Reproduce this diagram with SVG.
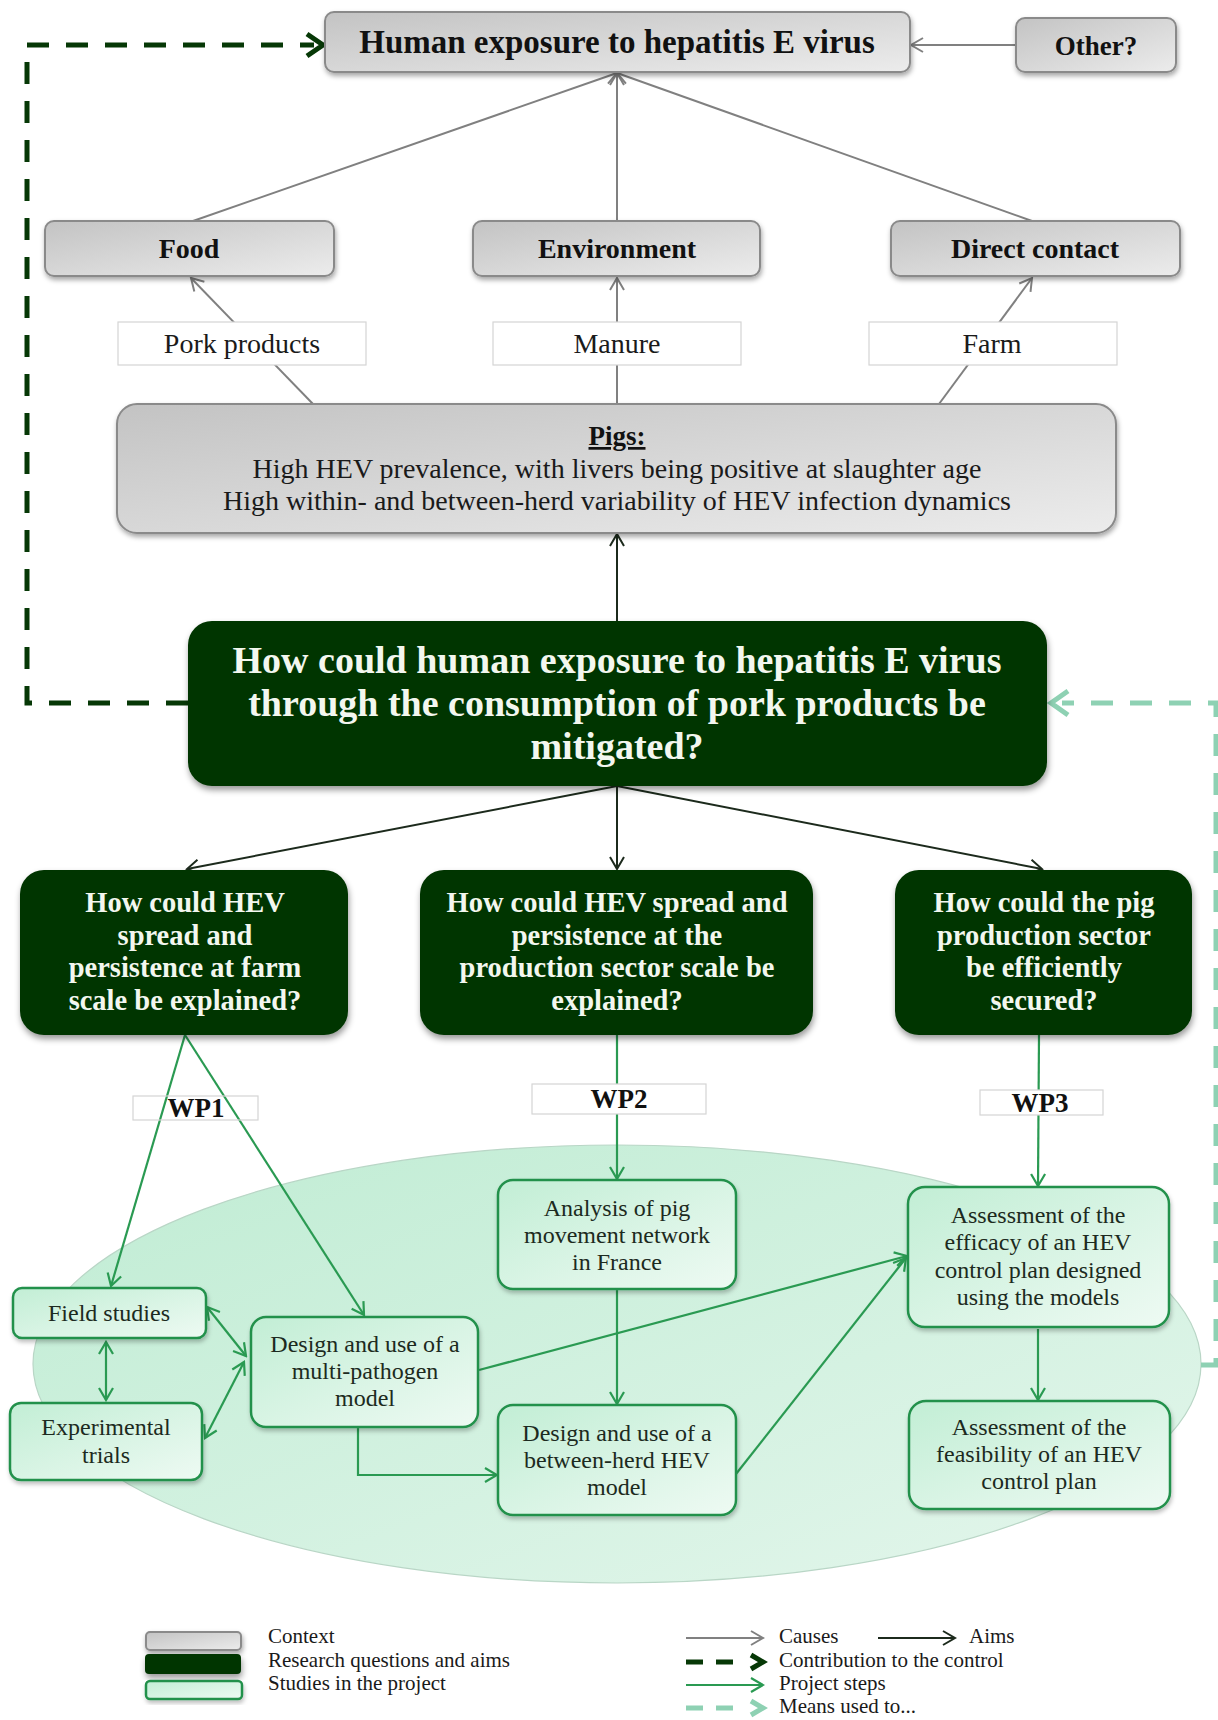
<svg xmlns="http://www.w3.org/2000/svg" width="1218" height="1720" viewBox="0 0 1218 1720">
<defs>
<style>
text{font-family:"Liberation Serif","Times New Roman",serif;}
.gbox{fill:url(#grayGrad);stroke:#8a8a8a;stroke-width:2;filter:url(#sh);}
.dbox{fill:#023502;filter:url(#shd);}
.lbox{fill:url(#lgGrad);stroke:#24914c;stroke-width:2.5;filter:url(#shl);}
.wbox{fill:#fff;stroke:#d4d4d4;stroke-width:1.2;}
.tb{font-weight:bold;fill:#111;text-anchor:middle;}
.tr{fill:#1a1a1a;text-anchor:middle;}
.tw{font-weight:bold;fill:#f3f7ef;text-anchor:middle;}
.ts{fill:#1c2a20;text-anchor:middle;font-size:24px;}
.cg{stroke:#808080;stroke-width:2;fill:none;marker-end:url(#arrGray);}
.cd{stroke:#1c2a1c;stroke-width:2;fill:none;marker-end:url(#arrDark);}
.cs{stroke:#2a9a52;stroke-width:2.2;fill:none;marker-end:url(#arrGreen);}
.cs2{stroke:#2a9a52;stroke-width:2.2;fill:none;marker-end:url(#arrGreen);marker-start:url(#arrGreen);}
.dk{stroke:#063806;stroke-width:5;fill:none;stroke-dasharray:22 17;}
.lg{stroke:#8ed1b3;stroke-width:5;fill:none;stroke-dasharray:22 17;}
.chd{stroke:#063806;stroke-width:5;fill:none;stroke-linejoin:miter;}
.chl{stroke:#8ed1b3;stroke-width:5;fill:none;stroke-linejoin:miter;}
.leg{fill:#1a1a1a;font-size:21px;}
</style>
<linearGradient id="grayGrad" x1="0" y1="0" x2="1" y2="1">
<stop offset="0" stop-color="#c3c3c3"/><stop offset="1" stop-color="#ececec"/>
</linearGradient>
<linearGradient id="lgGrad" x1="0" y1="0" x2="1" y2="1">
<stop offset="0" stop-color="#c2eed5"/><stop offset="1" stop-color="#eefaf3"/>
</linearGradient>
<linearGradient id="ellGrad" x1="0" y1="0" x2="1" y2="1">
<stop offset="0" stop-color="#bfecd3"/><stop offset="1" stop-color="#e4f6ec"/>
</linearGradient>
<filter id="sh" x="-10%" y="-20%" width="120%" height="150%">
<feDropShadow dx="1" dy="3" stdDeviation="2.5" flood-color="#000" flood-opacity="0.35"/>
</filter>
<filter id="shd" x="-10%" y="-20%" width="120%" height="150%">
<feDropShadow dx="1" dy="4" stdDeviation="3" flood-color="#000" flood-opacity="0.4"/>
</filter>
<filter id="shl" x="-10%" y="-20%" width="120%" height="150%">
<feDropShadow dx="1" dy="3" stdDeviation="2" flood-color="#000" flood-opacity="0.25"/>
</filter>
<marker id="arrGray" markerUnits="userSpaceOnUse" markerWidth="16" markerHeight="18" viewBox="0 0 16 18" refX="14" refY="9" orient="auto-start-reverse">
<path d="M2,2 L14,9 L2,16" fill="none" stroke="#808080" stroke-width="2"/>
</marker>
<marker id="arrDark" markerUnits="userSpaceOnUse" markerWidth="16" markerHeight="18" viewBox="0 0 16 18" refX="14" refY="9" orient="auto-start-reverse">
<path d="M2,2 L14,9 L2,16" fill="none" stroke="#1c2a1c" stroke-width="2"/>
</marker>
<marker id="arrGreen" markerUnits="userSpaceOnUse" markerWidth="16" markerHeight="18" viewBox="0 0 16 18" refX="14" refY="9" orient="auto-start-reverse">
<path d="M2,2 L14,9 L2,16" fill="none" stroke="#2a9a52" stroke-width="2.2"/>
</marker>
</defs>

<rect x="0" y="0" width="1218" height="1720" fill="#ffffff"/>

<g id="study-area">
<ellipse cx="617" cy="1364" rx="584" ry="219" fill="url(#ellGrad)" stroke="#b9d6c6" stroke-width="1.2"/>
</g>

<g id="connectors">
<line class="cg" x1="1016" y1="45" x2="911" y2="45"/>
<line class="cg" x1="193" y1="221" x2="617" y2="73"/>
<line class="cg" x1="617" y1="221" x2="617" y2="73"/>
<line class="cg" x1="1032" y1="221" x2="617" y2="73"/>
<line class="cg" x1="313" y1="404" x2="191" y2="278"/>
<line class="cg" x1="617" y1="404" x2="617" y2="278"/>
<line class="cg" x1="939" y1="404" x2="1032" y2="278"/>
<line class="cd" x1="617" y1="621" x2="617" y2="534"/>
<line class="cd" x1="617" y1="786" x2="187" y2="869"/>
<line class="cd" x1="617" y1="786" x2="617" y2="869"/>
<line class="cd" x1="617" y1="786" x2="1042" y2="869"/>
<path class="dk" d="M188,703 L27,703 L27,45 L314,45"/>
<polyline class="chd" points="307,34 323,45 307,56"/>
<path class="lg" d="M1201,1365 L1216,1365 L1216,703 L1062,703"/>
<polyline class="chl" points="1068,691 1051,703 1068,715"/>
<line class="cs" x1="185" y1="1035" x2="111" y2="1286"/>
<line class="cs" x1="185" y1="1035" x2="364" y2="1315"/>
<line class="cs" x1="617" y1="1035" x2="617" y2="1179"/>
<line class="cs" x1="1039" y1="1035" x2="1038" y2="1186"/>
<line class="cs2" x1="106" y1="1342" x2="106" y2="1400"/>
<line class="cs2" x1="207" y1="1307" x2="246" y2="1356"/>
<line class="cs2" x1="205" y1="1438" x2="244" y2="1362"/>
<path class="cs" d="M358,1428 L358,1475 L497,1475"/>
<line class="cs" x1="617" y1="1289" x2="617" y2="1404"/>
<line class="cs" x1="479" y1="1370" x2="907" y2="1256"/>
<line class="cs" x1="736" y1="1474" x2="906" y2="1258"/>
<line class="cs" x1="1038" y1="1329" x2="1038" y2="1400"/>
</g>

<g id="node-human-exposure">
<rect class="gbox" x="325" y="12" width="585" height="60" rx="9"/>
<text class="tb" x="617" y="53" font-size="33">Human exposure to hepatitis E virus</text>
</g>
<g id="node-other">
<rect class="gbox" x="1016" y="18" width="160" height="54" rx="9"/>
<text class="tb" x="1096" y="55" font-size="27">Other?</text>
</g>
<g id="node-food">
<rect class="gbox" x="45" y="221" width="289" height="55" rx="9"/>
<text class="tb" x="189" y="258" font-size="28">Food</text>
</g>
<g id="node-environment">
<rect class="gbox" x="473" y="221" width="287" height="55" rx="9"/>
<text class="tb" x="617" y="258" font-size="28">Environment</text>
</g>
<g id="node-direct-contact">
<rect class="gbox" x="891" y="221" width="289" height="55" rx="9"/>
<text class="tb" x="1035" y="258" font-size="28">Direct contact</text>
</g>
<g id="label-pork-products">
<rect class="wbox" x="118" y="322" width="248" height="43"/>
<text class="tr" x="242" y="353" font-size="28">Pork products</text>
</g>
<g id="label-manure">
<rect class="wbox" x="493" y="322" width="248" height="43"/>
<text class="tr" x="617" y="353" font-size="28">Manure</text>
</g>
<g id="label-farm">
<rect class="wbox" x="869" y="322" width="248" height="43"/>
<text class="tr" x="992" y="353" font-size="28">Farm</text>
</g>
<g id="node-pigs">
<rect class="gbox" x="117" y="404" width="999" height="129" rx="20"/>
<text class="tb" x="617" y="445" font-size="27" text-decoration="underline">Pigs:</text>
<text class="tr" x="617" y="478" font-size="28">High HEV prevalence, with livers being positive at slaughter age</text>
<text class="tr" x="617" y="510" font-size="28">High within- and between-herd variability of HEV infection dynamics</text>
</g>
<g id="node-main-question">
<rect class="dbox" x="188" y="621" width="859" height="165" rx="24"/>
<text class="tw" font-size="38"><tspan x="617" y="673">How could human exposure to hepatitis E virus</tspan><tspan x="617" y="716">through the consumption of pork products be</tspan><tspan x="617" y="759">mitigated?</tspan></text>
</g>
<g id="node-farm-scale">
<rect class="dbox" x="20" y="870" width="328" height="165" rx="24"/>
<text class="tw" font-size="28.5"><tspan x="185" y="912">How could HEV</tspan><tspan x="185" y="945">spread and</tspan><tspan x="185" y="977">persistence at farm</tspan><tspan x="185" y="1010">scale be explained?</tspan></text>
</g>
<g id="node-sector-scale">
<rect class="dbox" x="420" y="870" width="393" height="165" rx="24"/>
<text class="tw" font-size="28.5"><tspan x="617" y="912">How could HEV spread and</tspan><tspan x="617" y="945">persistence at the</tspan><tspan x="617" y="977">production sector scale be</tspan><tspan x="617" y="1010">explained?</tspan></text>
</g>
<g id="node-secured">
<rect class="dbox" x="895" y="870" width="297" height="165" rx="24"/>
<text class="tw" font-size="28.5"><tspan x="1044" y="912">How could the pig</tspan><tspan x="1044" y="945">production sector</tspan><tspan x="1044" y="977">be efficiently</tspan><tspan x="1044" y="1010">secured?</tspan></text>
</g>
<g id="label-wp1">
<rect x="133" y="1096" width="125" height="24" fill="none" stroke="#d4d4d4" stroke-width="1.2"/>
<text class="tb" x="196" y="1117" font-size="27">WP1</text>
</g>
<g id="label-wp2">
<rect class="wbox" x="532" y="1084" width="174" height="30"/>
<text class="tb" x="619" y="1108" font-size="27">WP2</text>
</g>
<g id="label-wp3">
<rect class="wbox" x="980" y="1090" width="123" height="25"/>
<text class="tb" x="1040" y="1112" font-size="27">WP3</text>
</g>
<g id="node-field-studies">
<rect class="lbox" x="13" y="1288" width="193" height="50" rx="9"/>
<text class="ts" x="109" y="1321">Field studies</text>
</g>
<g id="node-experimental-trials">
<rect class="lbox" x="10" y="1403" width="192" height="77" rx="11"/>
<text class="ts"><tspan x="106" y="1435">Experimental</tspan><tspan x="106" y="1463">trials</tspan></text>
</g>
<g id="node-multi-pathogen">
<rect class="lbox" x="251" y="1317" width="227" height="110" rx="15"/>
<text class="ts"><tspan x="365" y="1352">Design and use of a</tspan><tspan x="365" y="1379">multi-pathogen</tspan><tspan x="365" y="1406">model</tspan></text>
</g>
<g id="node-movement-network">
<rect class="lbox" x="498" y="1180" width="238" height="109" rx="15"/>
<text class="ts"><tspan x="617" y="1216">Analysis of pig</tspan><tspan x="617" y="1243">movement network</tspan><tspan x="617" y="1270">in France</tspan></text>
</g>
<g id="node-between-herd">
<rect class="lbox" x="498" y="1405" width="238" height="110" rx="15"/>
<text class="ts"><tspan x="617" y="1441">Design and use of a</tspan><tspan x="617" y="1468">between-herd HEV</tspan><tspan x="617" y="1495">model</tspan></text>
</g>
<g id="node-efficacy">
<rect class="lbox" x="908" y="1187" width="261" height="140" rx="17"/>
<text class="ts"><tspan x="1038" y="1223">Assessment of the</tspan><tspan x="1038" y="1250">efficacy of an HEV</tspan><tspan x="1038" y="1278">control plan designed</tspan><tspan x="1038" y="1305">using the models</tspan></text>
</g>
<g id="node-feasibility">
<rect class="lbox" x="909" y="1401" width="261" height="108" rx="17"/>
<text class="ts"><tspan x="1039" y="1435">Assessment of the</tspan><tspan x="1039" y="1462">feasibility of an HEV</tspan><tspan x="1039" y="1489">control plan</tspan></text>
</g>

<g id="legend">
<rect class="gbox" x="146" y="1632" width="95" height="18" rx="4"/>
<rect class="dbox" x="145" y="1654" width="96" height="20" rx="4"/>
<rect class="lbox" x="146" y="1681" width="96" height="18" rx="4"/>
<text class="leg" x="268" y="1643">Context</text>
<text class="leg" x="268" y="1667">Research questions and aims</text>
<text class="leg" x="268" y="1690">Studies in the project</text>
<line class="cg" x1="686" y1="1638" x2="763" y2="1638"/>
<text class="leg" x="779" y="1643">Causes</text>
<line class="cd" x1="878" y1="1638" x2="955" y2="1638"/>
<text class="leg" x="969" y="1643">Aims</text>
<path d="M686,1662 L745,1662" stroke="#063806" stroke-width="5" stroke-dasharray="17 13" fill="none"/>
<polyline class="chd" points="751,1655 763,1662 751,1669"/>
<text class="leg" x="779" y="1667">Contribution to the control</text>
<line class="cs" x1="686" y1="1685" x2="763" y2="1685"/>
<text class="leg" x="779" y="1690">Project steps</text>
<path d="M686,1708 L745,1708" stroke="#8ed1b3" stroke-width="5" stroke-dasharray="17 13" fill="none"/>
<polyline class="chl" points="751,1701 763,1708 751,1715"/>
<text class="leg" x="779" y="1713">Means used to...</text>
</g>
</svg>
